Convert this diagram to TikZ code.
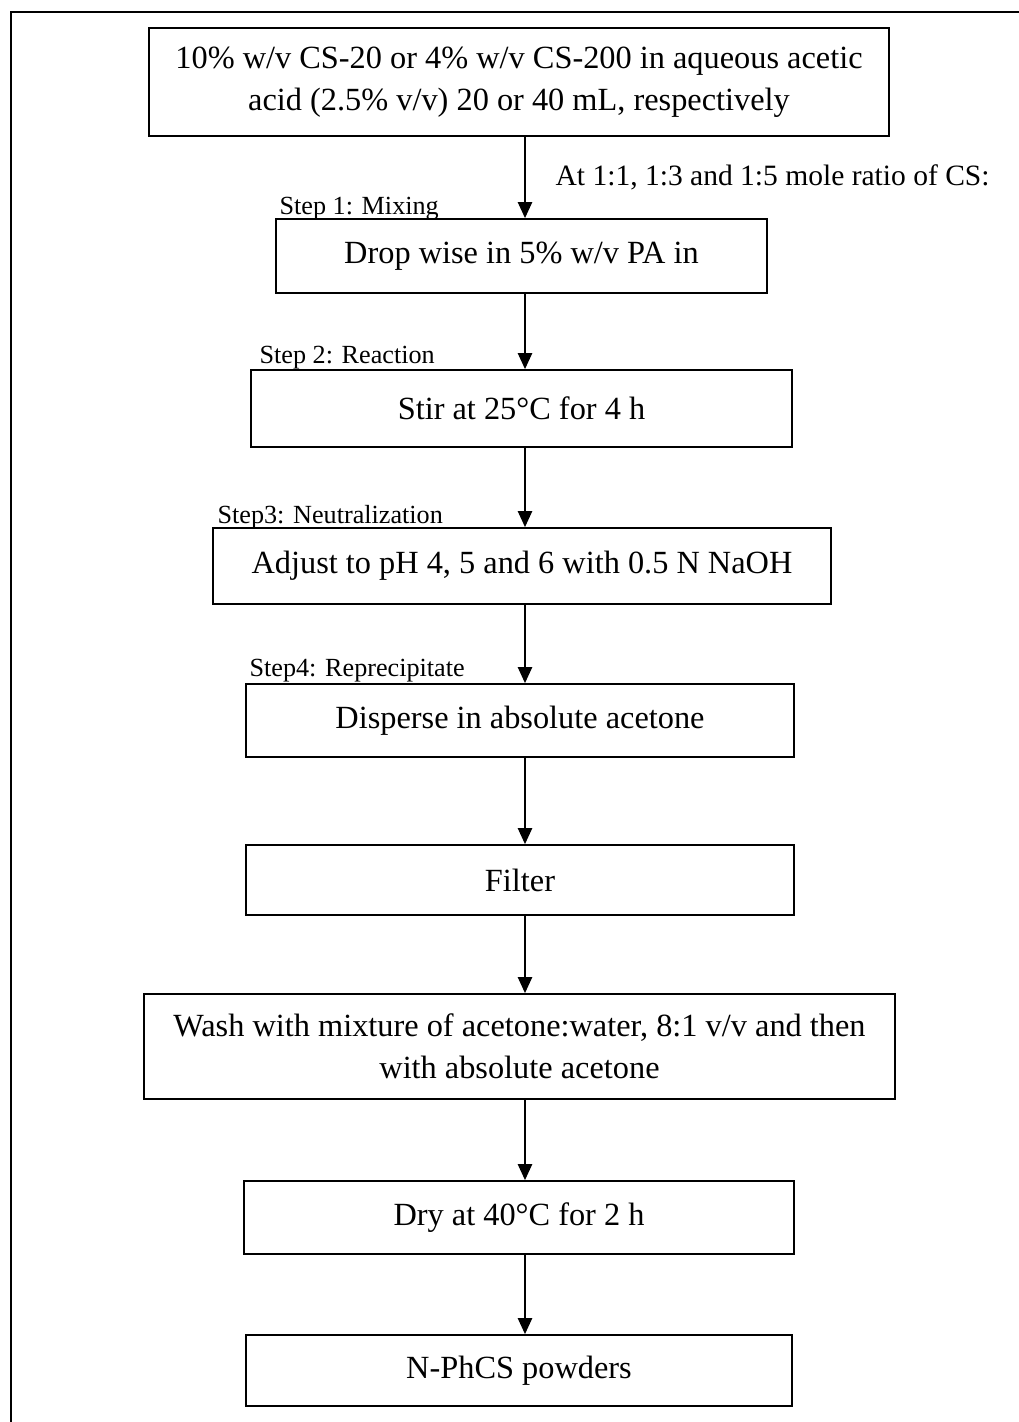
\documentclass[tikz,border=0pt]{standalone}
\usepackage{fontspec}
\setmainfont{Liberation Serif}
\usetikzlibrary{arrows.meta}
\begin{document}
\begin{tikzpicture}[-{Triangle[length=.4cm,width=.36cm]}, x=.025cm, y=-.025cm, line width=.9pt]
\useasboundingbox (0,0) rectangle (1019,1422);
\draw[-, line width=1.4pt] (11,1422) -- (11,12) -- (1019,12);
\tikzstyle{every node} = [draw, line width=1.3pt, inner sep=0pt, align=center, font=\fontsize{23}{30}\selectfont]
\node[minimum width=18.5cm, minimum height=2.7cm] (1) at (519,82) {10\% w/v CS-20 or 4\% w/v CS-200 in aqueous acetic\\acid (2.5\% v/v) 20 or 40 mL, respectively};
\node[minimum width=12.275cm, minimum height=1.85cm] (2) at (521.5,256) {Drop wise in 5\% w/v PA in};
\node[minimum width=13.525cm, minimum height=1.925cm] (3) at (521.5,408.5) {Stir at 25°C for 4 h};
\node[minimum width=15.45cm, minimum height=1.9cm] (4) at (522,566) {Adjust to pH 4, 5 and 6 with 0.5 N NaOH};
\node[minimum width=13.7cm, minimum height=1.825cm] (5) at (520,720.5) {Disperse in absolute acetone};
\node[minimum width=13.7cm, minimum height=1.75cm] (6) at (520,880) {Filter};
\node[minimum width=18.775cm, minimum height=2.625cm] (7) at (519.5,1046.5) {Wash with mixture of acetone:water, 8:1 v/v and then\\with absolute acetone};
\node[minimum width=13.75cm, minimum height=1.825cm] (8) at (519,1217.5) {Dry at 40°C for 2 h};
\node[minimum width=13.65cm, minimum height=1.775cm] (9) at (519,1370.5) {N-PhCS powders};
\tikzstyle{every node} = [inner sep=0pt, anchor=base west, font=\fontsize{18.6}{22}\selectfont]
\node[font=\fontsize{21}{25}\selectfont] (r) at (555,185) {At 1:1, 1:3 and 1:5 mole ratio of CS:};
\node (s1) at (279,214) {Step 1: Mixing};
\node (s2) at (259,363) {Step 2: Reaction};
\node (s3) at (217,523) {Step3: Neutralization};
\node (s4) at (249,676) {Step4: Reprecipitate};
\coordinate (a) at (525,0);
\draw (1.south -| a) -- (2.north -| a);
\draw (2.south -| a) -- (3.north -| a);
\draw (3.south -| a) -- (4.north -| a);
\draw (4.south -| a) -- (5.north -| a);
\draw (5.south -| a) -- (6.north -| a);
\draw (6.south -| a) -- (7.north -| a);
\draw (7.south -| a) -- (8.north -| a);
\draw (8.south -| a) -- (9.north -| a);
\end{tikzpicture}
\end{document}
